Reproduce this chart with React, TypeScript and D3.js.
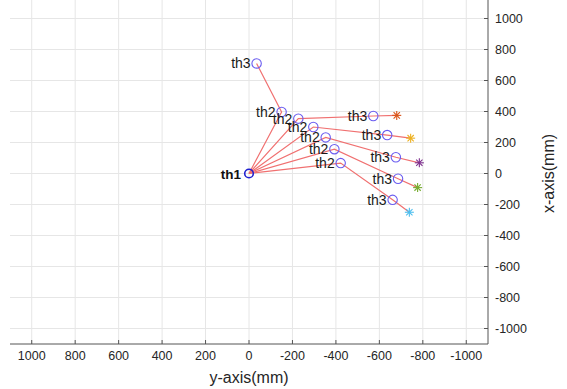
import React from "react";
import * as d3 from "d3";

const ticks = [1000, 800, 600, 400, 200, 0, -200, -400, -600, -800, -1000];
const base = { y: 0, x: 0 };
// joint th2 positions [y (horizontal), x (vertical)]
const th2Y = [-150, -227, -296, -353, -393, -422];
const th2X = [397, 354, 300, 233, 157, 67];
const th3Y = [-35, -572, -636, -676, -686, -661];
const th3X = [710, 371, 248, 105, -34, -170];
const endY = [null, -680, -744, -784, -776, -738];
const endX = [null, 375, 228, 69, -91, -250];
const endColors = ["#0072BD", "#D95319", "#EDB120", "#7E2F8E", "#77AC30", "#4DBEEE"];

const W = 567, H = 389;
const left = 10, right = 488, top = 3, bottom = 344;

export default function App() {
  const sx = d3.scaleLinear().domain([1100, -1100]).range([left, right]);
  const sy = d3.scaleLinear().domain([-1100, 1100]).range([bottom, top]);
  const font = "'Liberation Sans', Arial, sans-serif";
  const line = d3.line<[number, number]>().x(d => sx(d[0])).y(d => sy(d[1]));

  return (
    <svg width={W} height={H} style={{ position: "absolute", left: 0, top: 0, background: "#fff" }} fontFamily={font}>
      {ticks.map(t => (
        <g key={"g" + t}>
          <line x1={sx(t)} x2={sx(t)} y1={0} y2={bottom} stroke="#e6e6e6" strokeWidth={1} />
          <line x1={left} x2={right} y1={sy(t)} y2={sy(t)} stroke="#e6e6e6" strokeWidth={1} />
        </g>
      ))}
      {/* axes */}
      <line x1={left} x2={right} y1={bottom} y2={bottom} stroke="#555" strokeWidth={1} />
      <line x1={right} x2={right} y1={0} y2={bottom} stroke="#555" strokeWidth={1} />
      {ticks.map(t => (
        <g key={"t" + t}>
          <line x1={sx(t)} x2={sx(t)} y1={bottom} y2={bottom - 4} stroke="#555" />
          <text x={sx(t)} y={bottom + 16} fontSize={12.5} fill="#262626" textAnchor="middle">{t}</text>
          <line x1={right} x2={right - 4} y1={sy(t)} y2={sy(t)} stroke="#555" />
          <text x={right + 7} y={sy(t) + 4.5} fontSize={12.5} fill="#262626" textAnchor="start">{t}</text>
        </g>
      ))}
      <text x={sx(0)} y={383} fontSize={16} fill="#262626" textAnchor="middle">y-axis(mm)</text>
      <text transform={`translate(${554},${sy(0)}) rotate(-90)`} fontSize={16} fill="#262626" textAnchor="middle">x-axis(mm)</text>

      {/* links */}
      {th2Y.map((_, i) => {
        const pts: [number, number][] = [[base.y, base.x], [th2Y[i], th2X[i]], [th3Y[i], th3X[i]]];
        if (endY[i] !== null) pts.push([endY[i] as number, endX[i] as number]);
        return <path key={"l" + i} d={line(pts) || ""} fill="none" stroke="#f07070" strokeWidth={1.2} />;
      })}
      {/* end markers (asterisks) */}
      {endY.map((ey, i) => {
        if (ey === null) return null;
        const cx = sx(ey), cy = sy(endX[i] as number), r = 4.5;
        return (
          <g key={"e" + i} stroke={endColors[i]} strokeWidth={1.1}>
            <line x1={cx - r} x2={cx + r} y1={cy} y2={cy} />
            <line x1={cx} x2={cx} y1={cy - r} y2={cy + r} />
            <line x1={cx - r * 0.7} x2={cx + r * 0.7} y1={cy - r * 0.7} y2={cy + r * 0.7} />
            <line x1={cx - r * 0.7} x2={cx + r * 0.7} y1={cy + r * 0.7} y2={cy - r * 0.7} />
          </g>
        );
      })}
      {/* joint circles */}
      <circle cx={sx(base.y)} cy={sy(base.x)} r={4.3} fill="none" stroke="#2020d0" strokeWidth={1.6} />
      {th2Y.map((y, i) => (
        <circle key={"c2" + i} cx={sx(y)} cy={sy(th2X[i])} r={4.7} fill="none" stroke="#6a5cf0" strokeWidth={1.1} />
      ))}
      {th3Y.map((y, i) => (
        <circle key={"c3" + i} cx={sx(y)} cy={sy(th3X[i])} r={4.7} fill="none" stroke="#6a5cf0" strokeWidth={1.1} />
      ))}
      {/* labels */}
      <text x={sx(base.y) - 8} y={sy(base.x) + 5} fontSize={13.5} fontWeight="bold" fill="#111" textAnchor="end">th1</text>
      {th2Y.map((y, i) => (
        <text key={"a2" + i} x={sx(y) - 6} y={sy(th2X[i]) + 5} fontSize={14} fill="#1a1a1a" textAnchor="end">th2</text>
      ))}
      {th3Y.map((y, i) => (
        <text key={"a3" + i} x={sx(y) - 6} y={sy(th3X[i]) + 5} fontSize={14} fill="#1a1a1a" textAnchor="end">th3</text>
      ))}
    </svg>
  );
}
